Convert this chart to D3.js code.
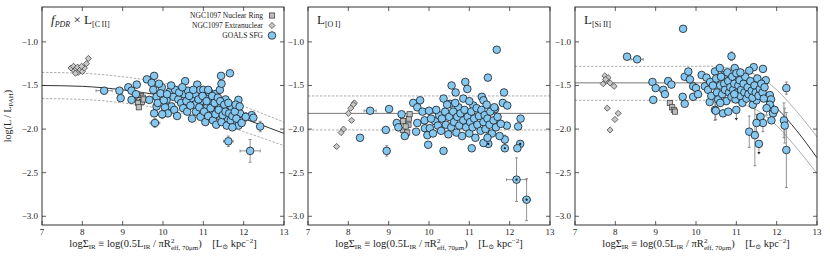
<!DOCTYPE html>
<html>
<head>
<meta charset="utf-8">
<script src="https://cdn.jsdelivr.net/npm/d3@7"></script>
<style>
  body { margin: 0; background: #fff; }
  text { font-family: "Liberation Serif", "DejaVu Serif", serif; fill: #222; }
</style>
</head>
<body>
<svg id="chart" width="830" height="260"></svg>
<script>
// ejes
const xTicks = [7, 8, 9, 10, 11, 12, 13];
const yTicks = [-1.0, -1.5, -2.0, -2.5, -3.0];
const xDomain = [7, 13];
const yDomain = [-3.1, -0.6];

// [x, y, errX, errY, flag]  flag: 'd' = punto central, 'u' = limite superior
const goalsCII = [
  [8.54,-1.56,0.2,0],[8.92,-1.56],[8.95,-1.645],[9.14,-1.52],[9.22,-1.56],[9.33,-1.60],[9.35,-1.49],
  [9.22,-1.665],[9.60,-1.43],[9.78,-1.39],[9.72,-1.47],[9.76,-1.55],[9.66,-1.665],[9.84,-1.63],
  [9.97,-1.52],[9.94,-1.59],[9.84,-1.74],[9.78,-1.82],[9.80,-1.93,0.12,0.05],[9.87,-1.70],
  [10.09,-1.665],[10.17,-1.57],[10.26,-1.63],[10.21,-1.74],[10.30,-1.55],[10.38,-1.66],[10.55,-1.45],
  [10.52,-1.60],[10.45,-1.70],[10.62,-1.56],[10.70,-1.65],[10.85,-1.49],[10.80,-1.60],[10.78,-1.72],
  [10.92,-1.55],[10.95,-1.68],[11.00,-1.55],[11.05,-1.62],[11.10,-1.74],[11.15,-1.58],[11.20,-1.68],
  [11.29,-1.60],[11.25,-1.80],[11.35,-1.72],[11.41,-1.55],[11.45,-1.48],[11.44,-1.39],[11.66,-1.36],
  [11.40,-1.85],[11.50,-1.78],[11.55,-1.66],[11.60,-1.88],[11.70,-1.75],[11.75,-1.92],[11.87,-1.665],
  [11.91,-1.82],[11.87,-1.96],[12.20,-1.84],[12.24,-1.87],[12.41,-1.97,0.08,0.06],
  [11.62,-2.14,0.12,0.06],[12.16,-2.25,0.25,0.13],
  [10.05,-1.75],[10.12,-1.82],[10.20,-1.50],[10.28,-1.78],[10.35,-1.85],[10.40,-1.58],[10.48,-1.52],
  [10.50,-1.76],[10.58,-1.68],[10.60,-1.80],[10.65,-1.62],[10.68,-1.73],[10.72,-1.88],[10.75,-1.55],
  [10.82,-1.80],[10.88,-1.66],[10.90,-1.75],[10.93,-1.86],[10.98,-1.62],[11.02,-1.80],[11.05,-1.92],
  [11.08,-1.68],[11.12,-1.55],[11.12,-1.85],[11.18,-1.76],[11.22,-1.62],[11.24,-1.90],[11.28,-1.70],
  [11.30,-1.83],[11.32,-1.95],[11.36,-1.64],[11.38,-1.78],[11.42,-1.68],[11.45,-1.92],[11.48,-1.84],
  [11.52,-1.72],[11.55,-1.80],[11.58,-1.96],[11.62,-1.70],[11.64,-1.82],[11.68,-1.90],[11.72,-1.85],
  [11.78,-1.80],[11.80,-1.72],[11.82,-1.88],[11.90,-1.74],[9.98,-1.83,0,0.05],[10.02,-1.67],
  [10.10,-1.60],[9.90,-1.48],[11.95,-1.93],[12.05,-1.86,0,0.05],[11.72,-1.98]
];
const ringCII = [[9.38,-1.63],[9.45,-1.62],[9.50,-1.64],[9.42,-1.67],[9.48,-1.69],[9.38,-1.70],[9.40,-1.75],[9.52,-1.66]];
const extraCII = [[7.72,-1.30],[7.78,-1.28],[7.80,-1.33],[7.85,-1.31],[7.90,-1.35],[7.88,-1.29],[7.95,-1.32],
  [8.00,-1.34],[8.05,-1.30],[8.10,-1.25],[8.15,-1.19],[7.83,-1.36],[7.98,-1.28]];

const goalsOI = [
  [8.54,-1.79,0.15,0],[9.01,-1.77],[8.29,-2.10],[8.93,-2.01],[8.95,-2.25,0,0.06],[9.32,-1.83],[9.20,-1.93],
  [9.24,-1.98],[9.40,-2.08],[9.61,-1.70],[9.78,-1.67],[9.71,-1.75],[9.84,-1.80],[10.00,-1.79],[9.89,-1.90],
  [9.71,-1.93],[9.68,-2.03],[9.90,-1.99],[10.02,-1.99],[9.96,-2.07],[9.98,-2.18],[10.15,-1.91],[10.25,-1.84],
  [10.36,-1.65],[10.52,-1.71],[10.56,-1.50],[10.66,-1.58],[10.73,-1.75],[10.85,-1.65],[10.90,-1.46],
  [10.95,-1.54],[11.10,-1.73],[11.31,-1.63],[11.35,-1.67],[11.43,-1.72],[11.46,-1.41],[11.64,-1.77],
  [11.68,-1.09],[11.83,-1.70],[11.86,-1.58],[11.94,-1.73],[12.27,-1.88],[12.21,-1.97],[11.93,-1.96],
  [11.88,-2.12,0,0.05],[12.26,-2.17,0,0,'d'],[12.19,-2.22],[11.88,-2.22,0,0,'d'],[11.47,-2.17,0,0,'d'],
  [11.35,-2.16],[11.06,-2.22],[10.36,-2.25],[12.17,-2.58,0.25,0.25,'d'],[12.42,-2.81,0.1,0.24,'d'],
  [10.05,-1.88],[10.10,-2.05],[10.18,-1.78],[10.22,-1.96],[10.30,-2.02],[10.32,-1.88],[10.40,-1.80],
  [10.42,-1.95],[10.48,-2.06],[10.50,-1.86],[10.55,-1.98],[10.60,-1.80],[10.62,-1.92],[10.68,-2.04],
  [10.70,-1.86],[10.75,-1.96],[10.78,-1.82],[10.82,-2.08],[10.85,-1.90],[10.88,-1.78],[10.92,-1.98],
  [10.96,-1.86],[11.00,-2.05],[11.02,-1.92],[11.05,-1.80],[11.08,-1.98],[11.12,-1.88],[11.15,-2.10],
  [11.18,-1.76],[11.20,-1.95],[11.24,-1.85],[11.28,-2.02],[11.30,-1.78],[11.35,-1.92],[11.38,-1.84],
  [11.40,-2.00],[11.45,-1.88],[11.50,-1.95],[11.52,-1.80],[11.56,-2.05],[11.60,-1.90],[11.62,-1.75],
  [11.66,-1.98],[11.70,-1.86],[11.75,-2.08],[11.78,-1.94],[11.45,-2.10,0,0.05],[10.45,-1.72],
  [10.65,-1.70],[11.00,-1.68]
];
const ringOI = [[9.36,-1.91],[9.50,-1.88],[9.49,-1.95],[9.35,-2.01],[9.52,-1.83],[9.42,-1.97],[9.46,-2.04]];
const extraOI = [[8.15,-1.70],[8.12,-1.72],[8.06,-1.76],[8.00,-1.82],[8.08,-1.90],[7.88,-2.00],[7.82,-2.04],[7.71,-2.20]];

const goalsSiII = [
  [9.68,-0.85],[8.29,-1.17],[8.54,-1.20,0.15,0],[8.92,-1.46],[9.00,-1.53],[9.19,-1.55],[9.31,-1.45],
  [9.23,-1.60],[9.39,-1.49],[8.94,-1.665],[9.72,-1.40],[9.81,-1.34],[9.85,-1.43],[9.67,-1.63],[9.72,-1.71],
  [9.93,-1.51],[10.00,-1.53],[9.93,-1.63],[10.05,-1.60],[10.14,-1.38],[10.26,-1.41],[10.22,-1.51],
  [10.35,-1.46],[10.47,-1.34],[10.59,-1.30],[10.70,-1.38],[10.88,-1.165,0,0.05],[10.96,-1.30],
  [10.47,-1.78,0,0.12],[10.67,-1.82],[11.66,-1.31],[11.43,-1.29],[11.32,-1.33],[11.73,-1.44],
  [12.24,-1.53,0,0.07],[11.83,-1.61],[11.86,-1.66],[11.83,-1.72],[11.91,-1.82],[11.87,-1.90],
  [12.18,-1.90,0,0.2],[12.20,-1.96,0,0.2],[11.60,-1.86],[11.66,-1.93,0,0.1],[11.50,-1.93,0,0.1],
  [11.32,-2.03,0,0.18],[11.46,-2.07,0,0.35],[11.56,-2.17,0,0,'u'],[12.24,-2.24,0,0.43],[11.41,-1.72],
  [11.50,-1.67],[11.00,-1.78,0,0,'u'],[10.80,-1.80],[10.49,-1.79,0,0.1],[10.34,-1.69],
  [10.30,-1.55],[10.38,-1.62],[10.42,-1.50],[10.50,-1.42],[10.52,-1.58],[10.55,-1.66],[10.60,-1.50],
  [10.62,-1.40],[10.65,-1.60],[10.70,-1.48],[10.72,-1.55],[10.75,-1.68],[10.78,-1.35],[10.80,-1.45],
  [10.82,-1.58],[10.85,-1.52],[10.88,-1.63],[10.90,-1.40],[10.92,-1.55],[10.95,-1.48],[10.98,-1.66],
  [11.00,-1.36],[11.02,-1.58],[11.05,-1.50],[11.08,-1.44],[11.10,-1.62],[11.12,-1.55],[11.15,-1.70],
  [11.18,-1.48],[11.20,-1.58],[11.22,-1.40],[11.25,-1.65],[11.28,-1.52],[11.30,-1.60],[11.35,-1.45],
  [11.38,-1.56],[11.40,-1.64],[11.45,-1.50],[11.48,-1.58],[11.52,-1.42],[11.55,-1.62],[11.58,-1.54],
  [11.62,-1.48],[11.65,-1.58],[11.68,-1.65],[11.70,-1.52],[11.10,-1.35],[10.95,-1.60],[10.60,-1.70],
  [11.75,-1.76,0,0.08],[11.95,-1.78]
];
const ringSiII = [[9.35,-1.70],[9.41,-1.75],[9.45,-1.78],[9.48,-1.80]];
const extraSiII = [[7.74,-1.39],[7.82,-1.41],[7.70,-1.48],[7.78,-1.45],[7.87,-1.47],[7.97,-1.51],[7.80,-1.76],
  [8.07,-1.82],[7.99,-1.89],[7.87,-2.01],[7.76,-1.43]];

// lineas de ajuste
const fitX = [7, 8, 9, 10, 11, 12, 13];
const fitCII = [-1.50, -1.51, -1.55, -1.62, -1.73, -1.88, -2.05];
const fitCIIup = [-1.35, -1.36, -1.40, -1.47, -1.58, -1.74, -1.92];
const fitCIIlo = [-1.65, -1.66, -1.70, -1.77, -1.88, -2.03, -2.19];
const levelOI = [-1.62, -1.82, -2.01];
const levelSiII = [-1.28, -1.47, -1.67];
const fitSiX = [10.5, 11, 11.5, 12, 12.5, 13];
const fitSi = [-1.48, -1.50, -1.58, -1.76, -2.02, -2.33];
const fitSiUp = [-1.29, -1.31, -1.38, -1.55, -1.80, -2.09];
const fitSiLo = [-1.67, -1.70, -1.78, -1.96, -2.22, -2.51];

const panelLefts = [42, 308, 575];
const pw = 242, plotTop = 7, plotBottom = 225;
const svg = d3.select('#chart');

const panels = [
  { goals: goalsCII, ring: ringCII, extra: extraCII },
  { goals: goalsOI, ring: ringOI, extra: extraOI },
  { goals: goalsSiII, ring: ringSiII, extra: extraSiII }
];

panels.forEach((p, i) => {
  const x = d3.scaleLinear().domain(xDomain).range([panelLefts[i], panelLefts[i] + pw]);
  const y = d3.scaleLinear().domain(yDomain).range([plotBottom, plotTop]);
  const g = svg.append('g');

  g.append('clipPath').attr('id', 'clip' + i)
    .append('rect').attr('x', x(7)).attr('y', plotTop).attr('width', pw).attr('height', plotBottom - plotTop);
  const plot = g.append('g').attr('clip-path', `url(#clip${i})`);

  const line = d3.line().x(d => x(d[0])).y(d => y(d[1])).curve(d3.curveMonotoneX);

  // lineas
  if (i === 0) {
    const up = fitX.map((v, k) => [v, fitCIIup[k]]);
    const lo = fitX.map((v, k) => [v, fitCIIlo[k]]);
    [up, lo].forEach(pts => {
      plot.append('path').attr('d', line(pts)).attr('fill', 'none')
        .attr('stroke', '#999').attr('stroke-width', 0.8).attr('stroke-dasharray', '2.5,1.5');
    });
    plot.append('path').attr('d', line(fitX.map((v, k) => [v, fitCII[k]]))).attr('fill', 'none')
      .attr('stroke', '#333').attr('stroke-width', 1);
  } else if (i === 1) {
    levelOI.forEach((v, k) => {
      plot.append('line').attr('x1', x(7)).attr('x2', x(13)).attr('y1', y(v)).attr('y2', y(v))
        .attr('stroke', k === 1 ? '#777' : '#999').attr('stroke-width', k === 1 ? 1 : 0.8)
        .attr('stroke-dasharray', k === 1 ? null : '2.5,1.5');
    });
  } else {
    levelSiII.forEach((v, k) => {
      plot.append('line').attr('x1', x(7)).attr('x2', x(10.5)).attr('y1', y(v)).attr('y2', y(v))
        .attr('stroke', k === 1 ? '#777' : '#999').attr('stroke-width', k === 1 ? 1 : 0.8)
        .attr('stroke-dasharray', k === 1 ? null : '2.5,1.5');
    });
    [fitSiUp, fitSiLo].forEach(arr => {
      plot.append('path').attr('d', line(fitSiX.map((v, k) => [v, arr[k]]))).attr('fill', 'none')
        .attr('stroke', '#999').attr('stroke-width', 0.8);
    });
    plot.append('path').attr('d', line(fitSiX.map((v, k) => [v, fitSi[k]]))).attr('fill', 'none')
      .attr('stroke', '#333').attr('stroke-width', 1);
  }

  // barras de error
  const eb = plot.append('g').attr('stroke', '#777').attr('stroke-width', 0.8);
  p.goals.forEach(d => {
    const ex = d[2] || 0, ey = d[3] || 0;
    if (ex) {
      eb.append('line').attr('x1', x(d[0] - ex)).attr('x2', x(d[0] + ex)).attr('y1', y(d[1])).attr('y2', y(d[1]));
      [d[0] - ex, d[0] + ex].forEach(e => eb.append('line').attr('x1', x(e)).attr('x2', x(e))
        .attr('y1', y(d[1]) - 1.5).attr('y2', y(d[1]) + 1.5));
    }
    if (ey) {
      eb.append('line').attr('x1', x(d[0])).attr('x2', x(d[0])).attr('y1', y(d[1] - ey)).attr('y2', y(d[1] + ey));
      [d[1] - ey, d[1] + ey].forEach(e => eb.append('line').attr('x1', x(d[0]) - 1.5).attr('x2', x(d[0]) + 1.5)
        .attr('y1', y(e)).attr('y2', y(e)));
    }
    if (d[4] === 'u') {
      eb.append('line').attr('x1', x(d[0])).attr('x2', x(d[0])).attr('y1', y(d[1])).attr('y2', y(d[1]) + 9);
      eb.append('path').attr('d', `M${x(d[0]) - 1.6},${y(d[1]) + 8}L${x(d[0]) + 1.6},${y(d[1]) + 8}L${x(d[0])},${y(d[1]) + 10.5}Z`)
        .attr('fill', '#222').attr('stroke', 'none');
    }
  });

  // NGC1097
  plot.selectAll('.extra').data(p.extra).enter().append('path')
    .attr('d', d3.symbol(d3.symbolDiamond2, 24))
    .attr('transform', d => `translate(${x(d[0])},${y(d[1])})`)
    .attr('fill', '#c8c8c8').attr('stroke', '#333').attr('stroke-width', 0.7);
  plot.selectAll('.ring').data(p.ring).enter().append('rect')
    .attr('x', d => x(d[0]) - 2.6).attr('y', d => y(d[1]) - 2.6)
    .attr('width', 5.2).attr('height', 5.2)
    .attr('fill', '#bdbdbd').attr('stroke', '#333').attr('stroke-width', 0.7);

  // GOALS
  plot.selectAll('.goals').data(p.goals).enter().append('circle')
    .attr('cx', d => x(d[0])).attr('cy', d => y(d[1])).attr('r', 3.8)
    .attr('fill', '#84c8f2').attr('stroke', '#1a1a1a').attr('stroke-width', 0.8);
  plot.selectAll('.dot').data(p.goals.filter(d => d[4] === 'd')).enter().append('circle')
    .attr('cx', d => x(d[0])).attr('cy', d => y(d[1])).attr('r', 1.1).attr('fill', '#111');

  // marco y ticks
  g.append('rect').attr('x', x(7)).attr('y', plotTop).attr('width', pw).attr('height', plotBottom - plotTop)
    .attr('fill', 'none').attr('stroke', '#333').attr('stroke-width', 1);
  const tk = g.append('g').attr('stroke', '#333').attr('stroke-width', 0.8);
  xTicks.forEach(t => {
    tk.append('line').attr('x1', x(t)).attr('x2', x(t)).attr('y1', plotBottom).attr('y2', plotBottom - 4);
    tk.append('line').attr('x1', x(t)).attr('x2', x(t)).attr('y1', plotTop).attr('y2', plotTop + 4);
  });
  yTicks.forEach(t => {
    tk.append('line').attr('x1', x(7)).attr('x2', x(7) + 4).attr('y1', y(t)).attr('y2', y(t));
    tk.append('line').attr('x1', x(13)).attr('x2', x(13) - 4).attr('y1', y(t)).attr('y2', y(t));
  });
  g.selectAll('.xt').data(xTicks).enter().append('text')
    .attr('x', d => x(d)).attr('y', plotBottom + 10).attr('text-anchor', 'middle')
    .attr('font-size', 9).text(d => d);
  g.selectAll('.yt').data(yTicks).enter().append('text')
    .attr('x', x(7) - 4).attr('y', d => y(d) + 3).attr('text-anchor', 'end')
    .attr('font-size', 9).text(d => d3.format('.1f')(d).replace('-', '\u2212'));

  // etiqueta eje x
  const xl = g.append('text').attr('x', x(10)).attr('y', 247).attr('text-anchor', 'middle').attr('font-size', 10.5);
  xl.append('tspan').text('log\u03A3');
  xl.append('tspan').attr('font-size', 7).attr('dy', 2).text('IR');
  xl.append('tspan').attr('dy', -2).text(' \u2261 log(0.5L');
  xl.append('tspan').attr('font-size', 7).attr('dy', 2).text('IR');
  xl.append('tspan').attr('dy', -2).text(' / \u03C0R');
  xl.append('tspan').attr('font-size', 7).attr('dy', -4).text('2');
  xl.append('tspan').attr('font-size', 7).attr('dx', -3.5).attr('dy', 6.5).text('eff, 70\u03BCm');
  xl.append('tspan').attr('dy', -2.5).text(')\u00A0\u00A0\u00A0\u00A0[L');
  xl.append('tspan').attr('font-size', 7).attr('dy', 2).text('\u2299');
  xl.append('tspan').attr('dy', -2).text(' kpc');
  xl.append('tspan').attr('font-size', 7).attr('dy', -4).text('\u22122');
  xl.append('tspan').attr('dy', 4).text(']');

  // titulo de panel
  const tl = g.append('text').attr('x', x(7) + 9).attr('y', 24).attr('font-size', 13);
  if (i === 0) {
    tl.append('tspan').attr('font-style', 'italic').text('f');
    tl.append('tspan').attr('font-style', 'italic').attr('font-size', 8).attr('dy', 3).text('PDR');
    tl.append('tspan').attr('dy', -3).text(' \u00D7 L');
    tl.append('tspan').attr('font-size', 8).attr('dy', 3).text('[C\u2009II]');
  } else {
    tl.append('tspan').text('L');
    tl.append('tspan').attr('font-size', 8).attr('dy', 3).text(i === 1 ? '[O\u2009I]' : '[Si\u2009II]');
  }
});

// etiqueta eje y
const yl = svg.append('text').attr('transform', 'translate(11,116) rotate(-90)')
  .attr('text-anchor', 'middle').attr('font-size', 10);
yl.append('tspan').text('log(L / L');
yl.append('tspan').attr('font-size', 7).attr('dy', 2).text('PAH');
yl.append('tspan').attr('dy', -2).text(')');

// leyenda
const legendItems = ['NGC1097 Nuclear Ring', 'NGC1097 Extranuclear', 'GOALS SFG'];
const leg = svg.append('g');
legendItems.forEach((name, k) => {
  const ly = 15.5 + k * 10;
  leg.append('text').attr('x', 263).attr('y', ly + 2.5).attr('text-anchor', 'end')
    .attr('font-size', 7.5).text(name);
  if (k === 0) {
    leg.append('rect').attr('x', 269.5).attr('y', ly - 2.6).attr('width', 5.2).attr('height', 5.2)
      .attr('fill', '#bdbdbd').attr('stroke', '#333').attr('stroke-width', 0.7);
  } else if (k === 1) {
    leg.append('path').attr('d', d3.symbol(d3.symbolDiamond2, 24)).attr('transform', `translate(272,${ly})`)
      .attr('fill', '#c8c8c8').attr('stroke', '#333').attr('stroke-width', 0.7);
  } else {
    leg.append('circle').attr('cx', 272).attr('cy', ly).attr('r', 3.8)
      .attr('fill', '#84c8f2').attr('stroke', '#1a1a1a').attr('stroke-width', 0.8);
  }
});
</script>
</body>
</html>
